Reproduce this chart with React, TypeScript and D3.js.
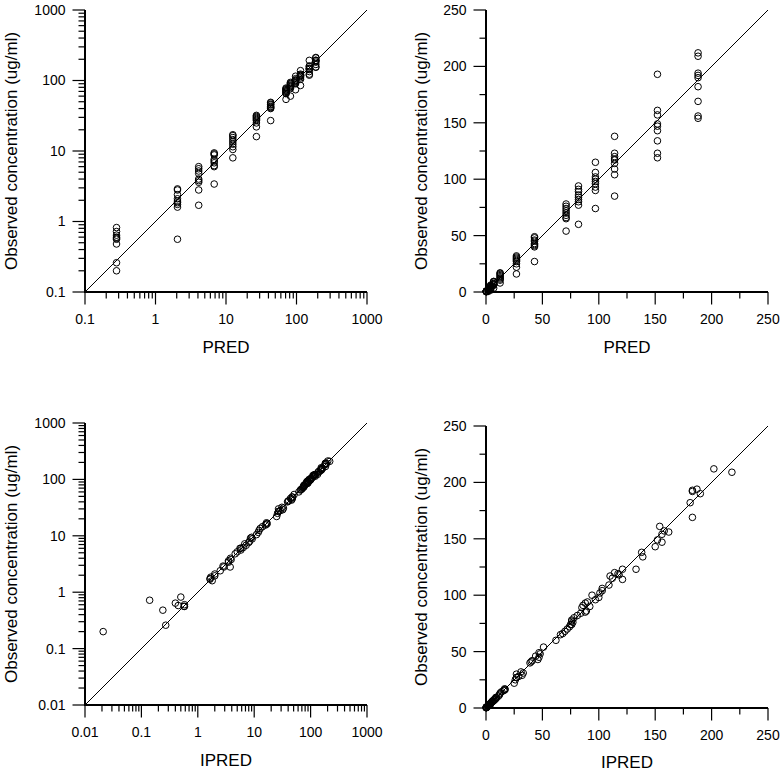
import React from "react";
import * as d3 from "d3";

// Population predicted concentration levels (PRED), one per group
const predLevels = [0.28, 2.05, 4.1, 6.8, 12.5, 27, 43, 71, 82, 97, 114, 152, 188];

// Observed concentrations (DV) per PRED level
const dvByLevel = [
  [0.82, 0.72, 0.64, 0.6, 0.58, 0.56, 0.48, 0.26, 0.2],
  [2.9, 2.8, 2.4, 2.1, 1.95, 1.85, 1.75, 1.6, 0.56],
  [6.0, 5.6, 5.2, 4.8, 4.0, 3.8, 3.6, 2.8, 1.7],
  [9.4, 9.1, 8.8, 7.6, 7.2, 6.8, 6.2, 6.0, 3.4],
  [17, 16.5, 15.5, 14.5, 13.5, 12.5, 11.5, 10.5, 8],
  [32, 31, 30, 29, 28, 27, 25, 22, 16],
  [49, 48, 46, 45, 43, 42, 41, 40, 27],
  [78, 76, 74, 72, 70, 68, 66, 65, 54],
  [94, 91, 89, 86, 84, 82, 80, 77, 60],
  [115, 106, 102, 100, 98, 96, 93, 90, 74],
  [138, 123, 120, 118, 117, 114, 109, 104, 85],
  [193, 161, 157, 149, 147, 143, 134, 123, 119],
  [212, 209, 194, 192, 190, 182, 169, 156, 154],
];

// Individual predictions (IPRED) matching each DV above
const ipredByLevel = [
  [0.5, 0.14, 0.4, 0.58, 0.45, 0.57, 0.24, 0.27, 0.021],
  [2.8, 2.9, 2.5, 2.0, 2.0, 1.7, 1.65, 1.8, 0.58],
  [5.6, 5.8, 5.0, 4.6, 3.8, 3.9, 3.5, 3.75, 1.65],
  [9.0, 8.6, 9.2, 8.0, 6.8, 7.2, 6.4, 5.8, 3.5],
  [16.5, 17, 15.8, 14, 12.8, 12.2, 11.8, 11, 8.3],
  [31, 33, 27, 32, 29, 27, 26, 25, 16.5],
  [47, 48, 44, 47, 46, 41, 40, 39, 27],
  [76, 77, 75, 74, 72, 70, 68, 66, 51],
  [90, 86, 85, 89, 84, 81, 78, 76, 62],
  [112, 103, 101, 94, 100, 97, 88, 92, 76],
  [138, 121, 114, 118, 110, 121, 109, 103, 88],
  [183, 154, 158, 152, 156, 150, 139, 133, 117],
  [202, 218, 187, 183, 190, 181, 183, 162, 156],
];

const logTicksTop = [0.1, 1, 10, 100, 1000];
const logTicksBottom = [0.01, 0.1, 1, 10, 100, 1000];
const linMajor = [0, 50, 100, 150, 200, 250];
const linMinor = [25, 75, 125, 175, 225];

const yTitle = "Observed concentration (ug/ml)";
const FONT = "'Liberation Sans', Arial, sans-serif";

type Pt = [number, number];

const predPoints: Pt[] = predLevels.flatMap((p, i) => dvByLevel[i].map((d) => [p, d] as Pt));
const ipredPoints: Pt[] = ipredByLevel.flatMap((row, i) => row.map((ip, j) => [ip, dvByLevel[i][j]] as Pt));

interface PanelProps {
  left: number;
  top: number;
  size: number;
  kind: "log" | "lin";
  domain: [number, number];
  majors: number[];
  xLabel: string;
  points: Pt[];
  titleX: number;
  xLabelY: number;
}

function fmt(v: number) {
  return String(v);
}

function Panel({ left, top, size, kind, domain, majors, xLabel, points, titleX, xLabelY }: PanelProps) {
  const xs =
    kind === "log"
      ? d3.scaleLog().domain(domain).range([0, size])
      : d3.scaleLinear().domain(domain).range([0, size]);
  const ys =
    kind === "log"
      ? d3.scaleLog().domain(domain).range([size, 0])
      : d3.scaleLinear().domain(domain).range([size, 0]);
  let minors: number[] = [];
  if (kind === "log") {
    minors = (xs as d3.ScaleLogarithmic<number, number>)
      .ticks()
      .filter((t) => Math.abs(Math.log10(t) - Math.round(Math.log10(t))) > 1e-6);
  } else {
    minors = linMinor;
  }
  const MAJ = 12.5;
  const MIN = 6.5;
  return (
    <g>
      <g transform={`translate(${left},${top})`}>
        <line x1={xs(domain[0])} y1={ys(domain[0])} x2={xs(domain[1])} y2={ys(domain[1])} stroke="#000" strokeWidth={1} />
        {points.map((p, i) => (
          <circle key={i} cx={xs(p[0])} cy={ys(p[1])} r={3.3} fill="none" stroke="#000" strokeWidth={1} />
        ))}
        {minors.map((t, i) => (
          <line key={"xm" + i} x1={xs(t)} x2={xs(t)} y1={size} y2={size + MIN} stroke="#000" strokeWidth={1.2} />
        ))}
        {majors.map((t, i) => (
          <line key={"xM" + i} x1={xs(t)} x2={xs(t)} y1={size} y2={size + MAJ} stroke="#000" strokeWidth={1.2} />
        ))}
        {minors.map((t, i) => (
          <line key={"ym" + i} y1={ys(t)} y2={ys(t)} x1={0} x2={-MIN} stroke="#000" strokeWidth={1.2} />
        ))}
        {majors.map((t, i) => (
          <line key={"yM" + i} y1={ys(t)} y2={ys(t)} x1={0} x2={-MAJ} stroke="#000" strokeWidth={1.2} />
        ))}
        <line x1={0} y1={0} x2={0} y2={size + 1} stroke="#000" strokeWidth={2} />
        <line x1={-1} y1={size} x2={size} y2={size} stroke="#000" strokeWidth={2} />
        {majors.map((t, i) => (
          <text key={"xl" + i} x={xs(t)} y={size + 32} textAnchor="middle" fontSize={14} fontFamily={FONT} fill="#000">
            {fmt(t)}
          </text>
        ))}
        {majors.map((t, i) => (
          <text key={"yl" + i} x={-19.5} y={ys(t)} dy="0.35em" textAnchor="end" fontSize={14} fontFamily={FONT} fill="#000">
            {fmt(t)}
          </text>
        ))}
        <text x={size / 2} y={xLabelY - top} dy="0.35em" textAnchor="middle" fontSize={17} fontFamily={FONT} fill="#000">
          {xLabel}
        </text>
      </g>
      <text
        transform={`translate(${titleX},${top + size / 2}) rotate(-90)`}
        textAnchor="middle"
        fontSize={17}
        fontFamily={FONT}
        fill="#000"
      >
        {yTitle}
      </text>
    </g>
  );
}

export default function App() {
  const S = 282;
  return (
    <svg width={781} height={772} style={{ position: "absolute", left: 0, top: 0, background: "#fff" }}>
      <rect width={781} height={772} fill="#fff" />
      <Panel left={85} top={10} size={S} kind="log" domain={[0.1, 1000]} majors={logTicksTop} xLabel="PRED" points={predPoints} titleX={16.5} xLabelY={347} />
      <Panel left={486} top={10} size={S} kind="lin" domain={[0, 250]} majors={linMajor} xLabel="PRED" points={predPoints} titleX={426.5} xLabelY={347} />
      <Panel left={85} top={423} size={S} kind="log" domain={[0.01, 1000]} majors={logTicksBottom} xLabel="IPRED" points={ipredPoints} titleX={16.5} xLabelY={760} />
      <Panel left={486} top={426} size={S} kind="lin" domain={[0, 250]} majors={linMajor} xLabel="IPRED" points={ipredPoints} titleX={426.5} xLabelY={762} />
    </svg>
  );
}
